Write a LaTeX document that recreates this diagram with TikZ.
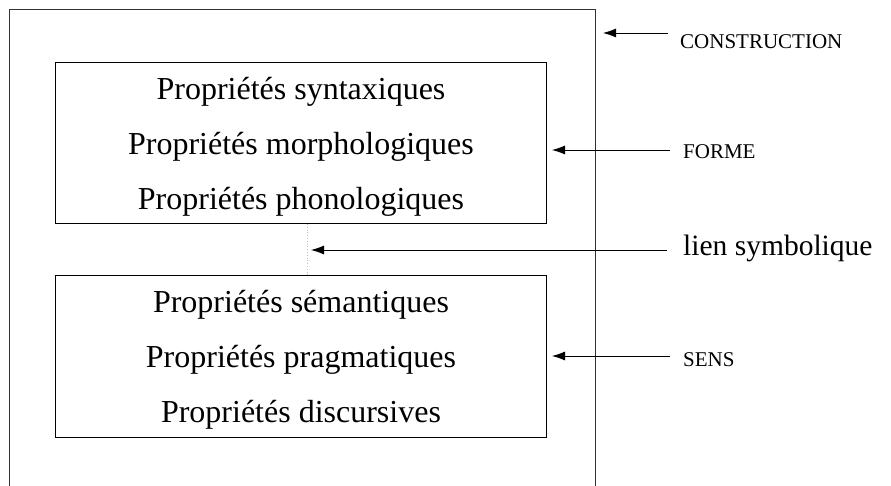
\documentclass[tikz,border=0pt]{standalone}
\usepackage{fontspec}
\setmainfont{Liberation Serif}
\usetikzlibrary{%
	arrows.meta,%
	calc%
}
\tikzset{
	boite/.style={draw,line width=1pt,minimum width=491pt,minimum height=161pt,
		inner sep=0pt,align=center,font=\fontsize{32}{55}\selectfont},
	etiq/.style={anchor=west,inner sep=0pt,font=\fontsize{21}{24}\selectfont},
	fleche/.style={-{Latex[length=13pt,width=9pt]},line width=0.8pt}
}

\begin{document}
\begin{tikzpicture}[x=1pt,y=-1pt]
			\useasboundingbox (0,0) rectangle (891,486);
			% cadre ouvert en bas
			\draw[line width=1pt,black!80] (9,486) -- (9,10) -- (595,10) coordinate (cadre) -- (595,486);
			\node[boite] (forme) at (301,143)
			{\rule{0pt}{0pt}\\[-26pt]Propriétés syntaxiques\\Propriétés morphologiques\\Propriétés phonologiques};
			\node[boite] (sens) at (301,356.5)
			{\rule{0pt}{0pt}\\[-26pt]Propriétés sémantiques\\Propriétés pragmatiques\\Propriétés discursives};
			\draw[gray!50,dotted,line width=0.8pt] ([xshift=6pt]forme.south) coordinate (lien-h) -- ([xshift=6pt]sens.north);
			% etiquettes
			\node[etiq] (l-constr) at (680,42) {CONSTRUCTION};
			\node[etiq] (l-forme) at (683,152) {FORME};
			\node[etiq,font=\fontsize{29.5}{32}\selectfont] (l-lien) at (683,248) {lien symbolique};
			\node[etiq] (l-sens) at (683,360) {SENS};
			\coordinate (a-constr) at (668,33);
			\coordinate (a-forme) at (670,150);
			\coordinate (a-lien) at (667,250);
			\coordinate (a-sens) at (670,356);
			\draw[fleche] (a-constr) -- ($(a-constr -| cadre)+(8,0)$);
			\draw[fleche] (a-forme) -- ($(a-forme -| forme.east)+(5,0)$);
			\draw[fleche] (a-lien) -- ($(a-lien -| lien-h)+(4,0)$);
			\draw[fleche] (a-sens) -- ($(a-sens -| sens.east)+(5,0)$);
		\end{tikzpicture}
\end{document}
